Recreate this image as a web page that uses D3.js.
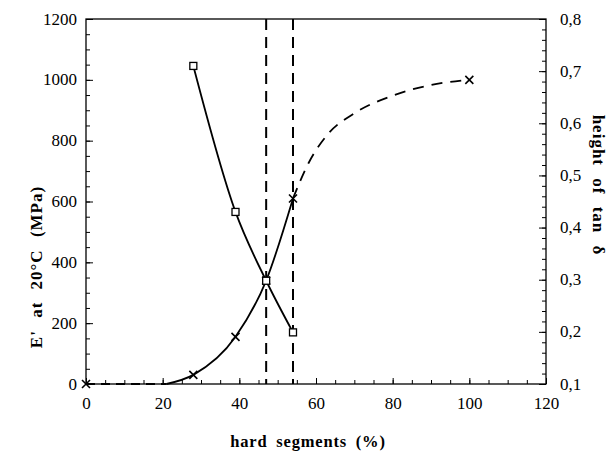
<!DOCTYPE html>
<html><head><meta charset="utf-8">
<script src="https://cdn.jsdelivr.net/npm/d3@7"></script>
<style>
html,body{margin:0;padding:0;background:#fff;}
svg{display:block;}
text{font-family:"Liberation Serif","Times New Roman",serif;fill:#000;}
</style></head>
<body>
<svg id="chart" width="613" height="453"></svg>
<script>
// ---- data ----
const xTicks = [0, 20, 40, 60, 80, 100, 120];
const leftTicks = [0, 200, 400, 600, 800, 1000, 1200];
const rightTicks = [0.1, 0.2, 0.3, 0.4, 0.5, 0.6, 0.7, 0.8];
const rightTickLabels = ["0,1","0,2","0,3","0,4","0,5","0,6","0,7","0,8"];

// E' measured points (crosses)
const eX = [0, 28, 39, 47, 54, 100];
const eY = [0, 30, 155, 340, 610, 1000];
// E' solid fit curve
const eFitX = [21, 28, 39, 47, 54];
const eFitY = [0, 30, 155, 340, 610];
// E' dashed extrapolation
const eDashX = [54, 58, 63, 70, 80, 90, 100];
const eDashY = [610, 725, 820, 890, 948, 983, 1000];
// baseline dashed segment
const eBaseX = [0, 21];
const eBaseY = [0, 0];

// height of tan delta (squares, right axis)
const tX = [28, 39, 47, 54];
const tY = [0.71, 0.43, 0.298, 0.199];

// vertical dashed reference lines
const vLines = [47, 54];

// ---- layout ----
const svg = d3.select("#chart");
const L = 86, R = 546, T = 19, B = 384;
const x = d3.scaleLinear().domain([0, 120]).range([L, R]);
const yL = d3.scaleLinear().domain([0, 1200]).range([B, T]);
const yR = d3.scaleLinear().domain([0.1, 0.8]).range([B, T]);

// frame
svg.append("rect").attr("x", L).attr("y", T).attr("width", R - L).attr("height", B - T)
  .attr("fill", "none").attr("stroke", "#000").attr("stroke-width", 1.3);

// bottom axis ticks (inward)
const gx = svg.append("g").attr("transform", `translate(0,${B})`)
  .call(d3.axisBottom(x).tickValues(d3.range(0, 121, 5)).tickSize(-4).tickFormat(""));
gx.select(".domain").remove();
gx.selectAll("line").attr("stroke", "#000");
svg.append("g").attr("transform", `translate(0,${B})`)
  .call(d3.axisBottom(x).tickValues(xTicks).tickSize(-6).tickPadding(10))
  .call(g => { g.select(".domain").remove(); g.selectAll("line").attr("stroke", "#000");
    g.selectAll("text").attr("font-size", 17).attr("dy", "0.9em"); });

// left axis
const gl = svg.append("g").attr("transform", `translate(${L},0)`)
  .call(d3.axisLeft(yL).tickValues(d3.range(0, 1201, 50)).tickSize(-4).tickFormat(""));
gl.select(".domain").remove(); gl.selectAll("line").attr("stroke", "#000");
svg.append("g").attr("transform", `translate(${L},0)`)
  .call(d3.axisLeft(yL).tickValues(leftTicks).tickSize(-7).tickPadding(9).tickFormat(d3.format("d")))
  .call(g => { g.select(".domain").remove(); g.selectAll("line").attr("stroke", "#000");
    g.selectAll("text").attr("font-size", 17).attr("dy", "0.3em"); });

// right axis
const gr = svg.append("g").attr("transform", `translate(${R},0)`)
  .call(d3.axisRight(yR).tickValues(d3.range(10, 81, 2).map(v => v / 100)).tickSize(-4).tickFormat(""));
gr.select(".domain").remove(); gr.selectAll("line").attr("stroke", "#000");
svg.append("g").attr("transform", `translate(${R},0)`)
  .call(d3.axisRight(yR).tickValues(rightTicks).tickSize(-7).tickPadding(14)
    .tickFormat((d, i) => rightTickLabels[i]))
  .call(g => { g.select(".domain").remove(); g.selectAll("line").attr("stroke", "#000");
    g.selectAll("text").attr("font-size", 17).attr("dy", "0.3em"); });

// axis titles
svg.append("text").attr("transform", `translate(308,447)`)
  .attr("text-anchor", "middle").attr("font-size", 16.5).attr("font-weight", "bold")
  .attr("letter-spacing", 0.8).attr("word-spacing", 4).text("hard segments (%)");
svg.append("text").attr("transform", `translate(42,267) rotate(-90)`)
  .attr("text-anchor", "middle").attr("font-size", 17).attr("font-weight", "bold")
  .attr("letter-spacing", 1).attr("word-spacing", 7).text("E' at 20°C (MPa)");
svg.append("text").attr("transform", `translate(593,185) rotate(90)`)
  .attr("text-anchor", "middle").attr("font-size", 17).attr("font-weight", "bold")
  .attr("letter-spacing", 1).attr("word-spacing", 7).text("height of tan δ");

// vertical dashed lines
svg.selectAll(".vline").data(vLines).enter().append("line")
  .attr("x1", d => x(d)).attr("x2", d => x(d)).attr("y1", T).attr("y2", B)
  .attr("stroke", "#000").attr("stroke-width", 2).attr("stroke-dasharray", "11,7");

const lineE = d3.line().x(d => x(d[0])).y(d => yL(d[1]));
const lineT = d3.line().x(d => x(d[0])).y(d => yR(d[1]));

// E' baseline dashed
svg.append("path").datum(d3.zip(eBaseX, eBaseY)).attr("d", lineE)
  .attr("fill", "none").attr("stroke", "#000").attr("stroke-width", 2).attr("stroke-dasharray", "9,6");
// E' solid curve
svg.append("path").datum(d3.zip(eFitX, eFitY)).attr("d", lineE.curve(d3.curveMonotoneX))
  .attr("fill", "none").attr("stroke", "#000").attr("stroke-width", 1.8);
// E' dashed curve
svg.append("path").datum(d3.zip(eDashX, eDashY)).attr("d", lineE.curve(d3.curveMonotoneX))
  .attr("fill", "none").attr("stroke", "#000").attr("stroke-width", 1.8).attr("stroke-dasharray", "11,8");
// tan delta curve
svg.append("path").datum(d3.zip(tX, tY)).attr("d", lineT.curve(d3.curveMonotoneX))
  .attr("fill", "none").attr("stroke", "#000").attr("stroke-width", 1.8);

// cross markers
const s = 4;
svg.selectAll(".cross").data(d3.zip(eX, eY)).enter().append("path")
  .attr("d", d => { const cx = x(d[0]), cy = yL(d[1]);
    return `M${cx - s},${cy - s}L${cx + s},${cy + s}M${cx - s},${cy + s}L${cx + s},${cy - s}`; })
  .attr("stroke", "#000").attr("stroke-width", 1.6).attr("fill", "none");

// square markers
svg.selectAll(".sq").data(d3.zip(tX, tY)).enter().append("rect")
  .attr("x", d => x(d[0]) - 3.5).attr("y", d => yR(d[1]) - 3.5)
  .attr("width", 7).attr("height", 7)
  .attr("fill", "#fff").attr("stroke", "#000").attr("stroke-width", 1.3);
</script>
</body></html>
